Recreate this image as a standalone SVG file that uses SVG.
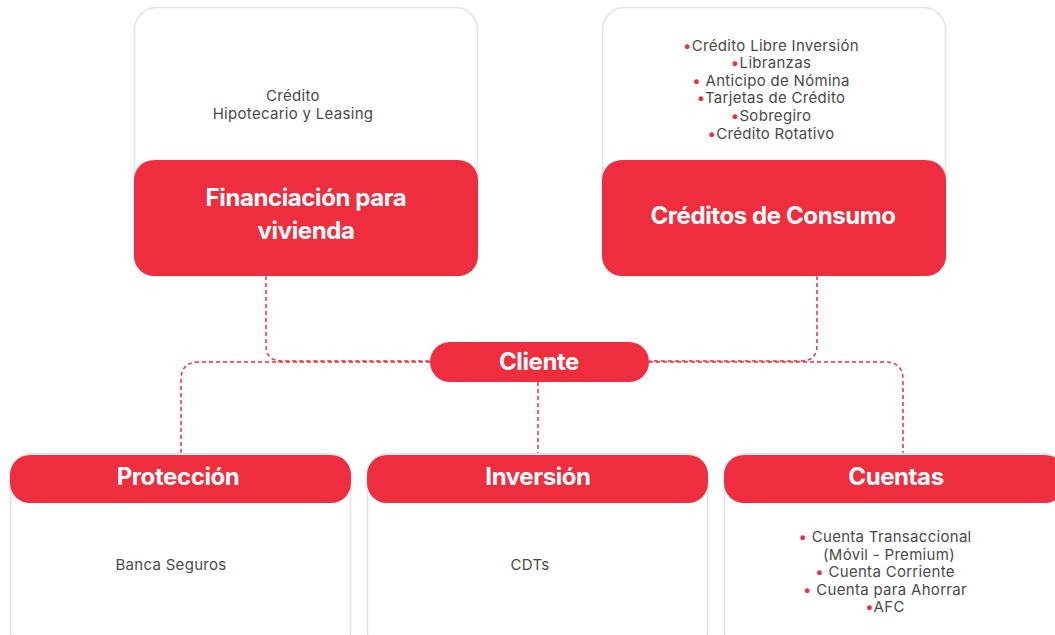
<svg xmlns="http://www.w3.org/2000/svg" width="1055" height="635" viewBox="0 0 1055 635">
<style>
.card{fill:#fff;stroke:#e2e2e2;stroke-width:1.5}
.red{fill:#ee2e3e}
.title{font-family:Inter,"Open Sans",sans-serif;font-weight:700;fill:#fff;font-size:24px;text-anchor:middle;letter-spacing:-0.4px}
.body{font-family:Inter,"Open Sans",sans-serif;font-size:15px;fill:#4a4a4a;text-anchor:middle;letter-spacing:0.3px}
.b{fill:#ee2e3e}
.conn{fill:none;stroke:#ee2e3e;stroke-width:1.5;stroke-dasharray:4 3}
</style>
<rect width="1055" height="635" fill="#fff"/>
<g id="connectors">
<path class="conn" d="M266,276 V345 Q266,361 282,361 H430"/>
<path class="conn" d="M817,276 V345 Q817,361 801,361 H649"/>
<path class="conn" d="M430,362 H199 Q181,362 181,380 V455"/>
<path class="conn" d="M649,362 H885 Q903,362 903,380 V455"/>
<path class="conn" d="M538,382 V455"/>
</g>
<g id="financiacion">
<rect class="card" x="134.5" y="7.5" width="343" height="268" rx="22"/>
<rect class="red" x="134" y="160" width="344" height="116" rx="20"/>
<text class="body" x="293" y="101">Crédito</text>
<text class="body" x="293" y="119">Hipotecario y Leasing</text>
<text class="title" x="306" y="206">Financiación para</text>
<text class="title" x="306" y="239">vivienda</text>
</g>
<g id="consumo">
<rect class="card" x="602.5" y="7.5" width="343" height="268" rx="22"/>
<rect class="red" x="602" y="160" width="344" height="116" rx="20"/>
<text class="body" x="771" y="51"><tspan class="b">•</tspan>Crédito Libre Inversión</text>
<text class="body" x="771" y="68"><tspan class="b">•</tspan>Libranzas</text>
<text class="body" x="771" y="86"><tspan class="b">•</tspan> Anticipo de Nómina</text>
<text class="body" x="771" y="103"><tspan class="b">•</tspan>Tarjetas de Crédito</text>
<text class="body" x="771" y="121"><tspan class="b">•</tspan>Sobregiro</text>
<text class="body" x="771" y="139"><tspan class="b">•</tspan>Crédito Rotativo</text>
<text class="title" x="773" y="224">Créditos de Consumo</text>
</g>
<g id="cliente">
<rect class="red" x="430" y="342" width="219" height="40" rx="20"/>
<text class="title" x="539" y="370">Cliente</text>
</g>
<g id="proteccion">
<rect class="card" x="10.5" y="453.5" width="340" height="200" rx="22"/>
<rect class="red" x="10" y="455" width="341" height="48" rx="20"/>
<text class="title" x="178" y="485">Protección</text>
<text class="body" x="171" y="570">Banca Seguros</text>
</g>
<g id="inversion">
<rect class="card" x="367.5" y="453.5" width="340" height="200" rx="22"/>
<rect class="red" x="367" y="455" width="341" height="48" rx="20"/>
<text class="title" x="538" y="485">Inversión</text>
<text class="body" x="530" y="570">CDTs</text>
</g>
<g id="cuentas">
<rect class="card" x="724.5" y="453.5" width="340" height="200" rx="22"/>
<rect class="red" x="724" y="455" width="341" height="48" rx="20"/>
<text class="title" x="896" y="485">Cuentas</text>
<text class="body" x="885" y="542"><tspan class="b">•</tspan> Cuenta Transaccional</text>
<text class="body" x="889" y="560">(Móvil - Premium)</text>
<text class="body" x="885" y="577"><tspan class="b">•</tspan> Cuenta Corriente</text>
<text class="body" x="885" y="595"><tspan class="b">•</tspan> Cuenta para Ahorrar</text>
<text class="body" x="885" y="612"><tspan class="b">•</tspan>AFC</text>
</g>
</svg>
